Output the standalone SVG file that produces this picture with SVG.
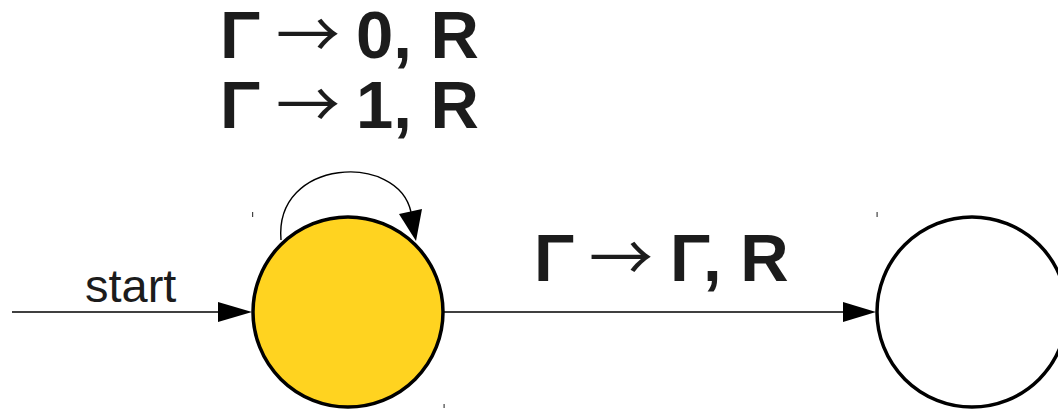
<svg xmlns="http://www.w3.org/2000/svg" width="1058" height="409" viewBox="0 0 1058 409">
<style>
.lbl{font-family:"Liberation Sans",Arial,sans-serif;font-weight:bold;font-size:67px;fill:#1c1c1c}
.arr{font-family:"Noto Sans CJK SC","DejaVu Sans",sans-serif;font-weight:normal;font-size:64px}
.st{font-family:"Liberation Sans",Arial,sans-serif;font-size:47px;fill:#1c1c1c}
.edge{fill:none;stroke:#000;stroke-width:1.4}
.head{fill:#000}
.state{stroke:#000;stroke-width:3.5}
.tick{fill:#444}
</style>
<rect width="1058" height="409" fill="#fff"/>
<g id="connectors">
<g id="start-edge">
<line class="edge" x1="12" y1="312" x2="220" y2="312"/>
<polygon class="head" points="218,302 252,312 218,322"/>
<text class="st" x="85" y="302">start</text>
</g>
<g id="loop-edge">
<path class="edge" d="M281,240 C274,158 398,152 411,212"/>
<polygon class="head" points="399,214 422,209 416,241"/>
<text class="lbl" y="58"><tspan x="220">Γ</tspan><tspan class="arr" x="276">→</tspan><tspan x="356">0, R</tspan></text>
<text class="lbl" y="128"><tspan x="220">Γ</tspan><tspan class="arr" x="276">→</tspan><tspan x="356">1, R</tspan></text>
</g>
<g id="trans-edge">
<line class="edge" x1="444" y1="312" x2="845" y2="312"/>
<polygon class="head" points="843,302 876,312 843,322"/>
<text class="lbl" y="281"><tspan x="534">Γ</tspan><tspan class="arr" x="589">→</tspan><tspan x="670">Γ, R</tspan></text>
</g>
</g>
<g id="q0">
<circle class="state" cx="348" cy="312" r="95" fill="#ffd320"/>
<rect class="tick" x="252" y="212" width="1.2" height="5"/>
<rect class="tick" x="443.5" y="404" width="1.2" height="4"/>
</g>
<g id="q1">
<circle class="state" cx="972" cy="312" r="95" fill="#fff"/>
<rect class="tick" x="876.5" y="212" width="1.2" height="5"/>
</g>
</svg>
